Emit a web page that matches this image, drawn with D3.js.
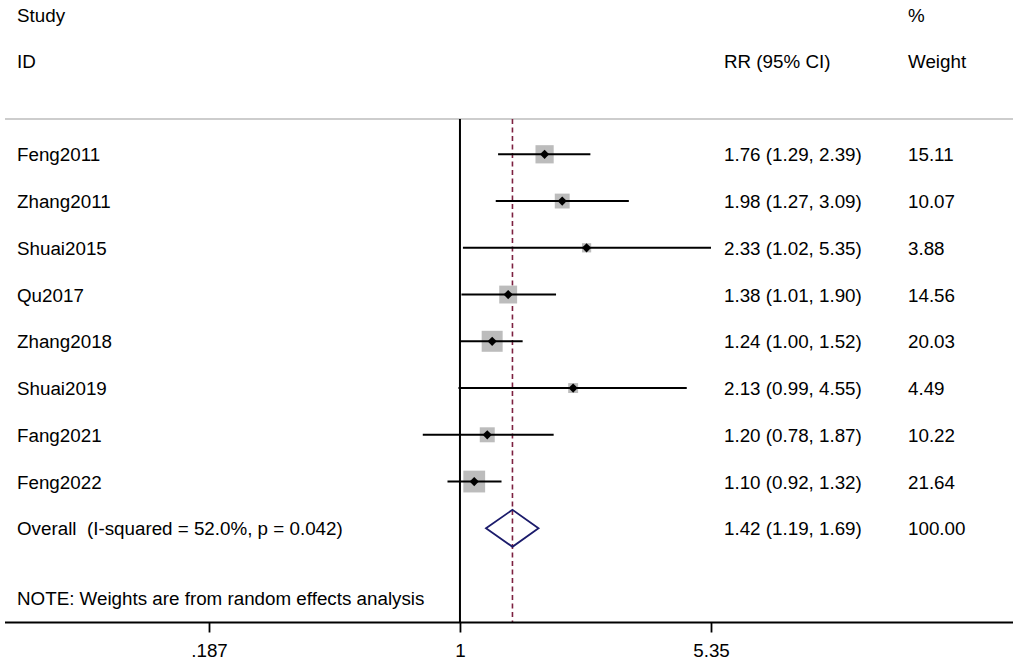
<!DOCTYPE html>
<html>
<head>
<meta charset="utf-8">
<script src="https://cdn.jsdelivr.net/npm/d3@7"></script>
<style>
  html, body { margin: 0; padding: 0; background: #fff; }
  svg { display: block; }
  text { font-family: "Liberation Sans", Arial, sans-serif; font-size: 18.8px; fill: #000; }
</style>
</head>
<body>
<svg id="chart" width="1021" height="667"></svg>
<script>
const studies = ["Feng2011","Zhang2011","Shuai2015","Qu2017","Zhang2018","Shuai2019","Fang2021","Feng2022"];
const rr      = [1.76, 1.98, 2.33, 1.38, 1.24, 2.13, 1.20, 1.10];
const lower   = [1.29, 1.27, 1.02, 1.01, 1.00, 0.99, 0.78, 0.92];
const upper   = [2.39, 3.09, 5.35, 1.90, 1.52, 4.55, 1.87, 1.32];
const weights = [15.11, 10.07, 3.88, 14.56, 20.03, 4.49, 10.22, 21.64];
const overallLabel = "Overall  (I-squared = 52.0%, p = 0.042)";
const overallRR = 1.42, overallLower = 1.19, overallUpper = 1.69, overallWeight = 100.00;
const tickValues = [0.187, 1, 5.35];
const tickLabels = [".187", "1", "5.35"];
const noteText = "NOTE: Weights are from random effects analysis";

const svg = d3.select("#chart");
const f2 = d3.format(".2f");

const x = d3.scaleLog().domain([0.187, 5.35]).range([209, 711]);
const rows = studies.concat(["Overall"]);
const y = d3.scalePoint().domain(rows).range([154.3, 528.3]);
const side = d3.scaleSqrt().domain([0, 21.64]).range([0, 21.8]);

const topY = 119, axisY = 622.5;

// header
svg.append("text").attr("x", 17).attr("y", 22).text("Study");
svg.append("text").attr("x", 17).attr("y", 68).text("ID");
svg.append("text").attr("x", 724).attr("y", 68).text("RR (95% CI)");
svg.append("text").attr("x", 908).attr("y", 22).text("%");
svg.append("text").attr("x", 908).attr("y", 68).text("Weight");

// top rule
svg.append("line").attr("x1", 5).attr("x2", 1013).attr("y1", topY).attr("y2", topY)
  .attr("stroke", "#bdbdbd").attr("stroke-width", 1.5);

// null line
svg.append("line").attr("x1", x(1)).attr("x2", x(1)).attr("y1", topY).attr("y2", axisY)
  .attr("stroke", "#000").attr("stroke-width", 2);

// overall dashed line
svg.append("line").attr("x1", x(overallRR)).attr("x2", x(overallRR)).attr("y1", topY).attr("y2", axisY)
  .attr("stroke", "#7d2040").attr("stroke-width", 1.6).attr("stroke-dasharray", "5,3.5");

// axis
const axis = d3.axisBottom(x).tickValues(tickValues)
  .tickFormat((d, i) => tickLabels[i]).tickSize(10).tickPadding(11).tickSizeOuter(0);
const gAxis = svg.append("g").attr("transform", `translate(0,${axisY})`).call(axis);
gAxis.select(".domain").remove();
gAxis.append("line").attr("x1", 5).attr("x2", 1013).attr("y1", 0).attr("y2", 0)
  .attr("stroke", "#000").attr("stroke-width", 1.8);
gAxis.selectAll(".tick line").attr("stroke", "#000").attr("stroke-width", 1.8);
gAxis.selectAll(".tick text").attr("font-size", 18.8).attr("font-family", "Liberation Sans, Arial, sans-serif").attr("fill", "#000");

// studies
const data = studies.map((s, i) => ({ s, rr: rr[i], lo: lower[i], hi: upper[i], w: weights[i] }));
const g = svg.append("g");
const row = g.selectAll("g.row").data(data).join("g").attr("class", "row");

row.append("rect")
  .attr("x", d => x(d.rr) - side(d.w) / 2)
  .attr("y", d => y(d.s) - side(d.w) / 2)
  .attr("width", d => side(d.w)).attr("height", d => side(d.w))
  .attr("fill", "#bcbcbc");
row.append("line")
  .attr("x1", d => x(d.lo)).attr("x2", d => x(d.hi))
  .attr("y1", d => y(d.s)).attr("y2", d => y(d.s))
  .attr("stroke", "#000").attr("stroke-width", 2);
row.append("path")
  .attr("d", d => {
    const cx = x(d.rr), cy = y(d.s), r = 4.6;
    return `M${cx - r},${cy}L${cx},${cy - r}L${cx + r},${cy}L${cx},${cy + r}Z`;
  })
  .attr("fill", "#000");
row.append("text").attr("x", 17).attr("y", d => y(d.s) + 7).text(d => d.s);
row.append("text").attr("x", 724).attr("y", d => y(d.s) + 7)
  .text(d => `${f2(d.rr)} (${f2(d.lo)}, ${f2(d.hi)})`);
row.append("text").attr("x", 908).attr("y", d => y(d.s) + 7).text(d => f2(d.w));

// overall
const oy = y("Overall");
svg.append("path")
  .attr("d", `M${x(overallLower)},${oy}L${x(overallRR)},${oy - 18.5}L${x(overallUpper)},${oy}L${x(overallRR)},${oy + 18.5}Z`)
  .attr("fill", "none").attr("stroke", "#1b1b6b").attr("stroke-width", 1.8);
svg.append("text").attr("x", 17).attr("y", oy + 7).text(overallLabel).attr("xml:space", "preserve").style("white-space", "pre");
svg.append("text").attr("x", 724).attr("y", oy + 7)
  .text(`${f2(overallRR)} (${f2(overallLower)}, ${f2(overallUpper)})`);
svg.append("text").attr("x", 908).attr("y", oy + 7).text(f2(overallWeight));

// note
svg.append("text").attr("x", 17).attr("y", 605).text(noteText);
</script>
</body>
</html>
